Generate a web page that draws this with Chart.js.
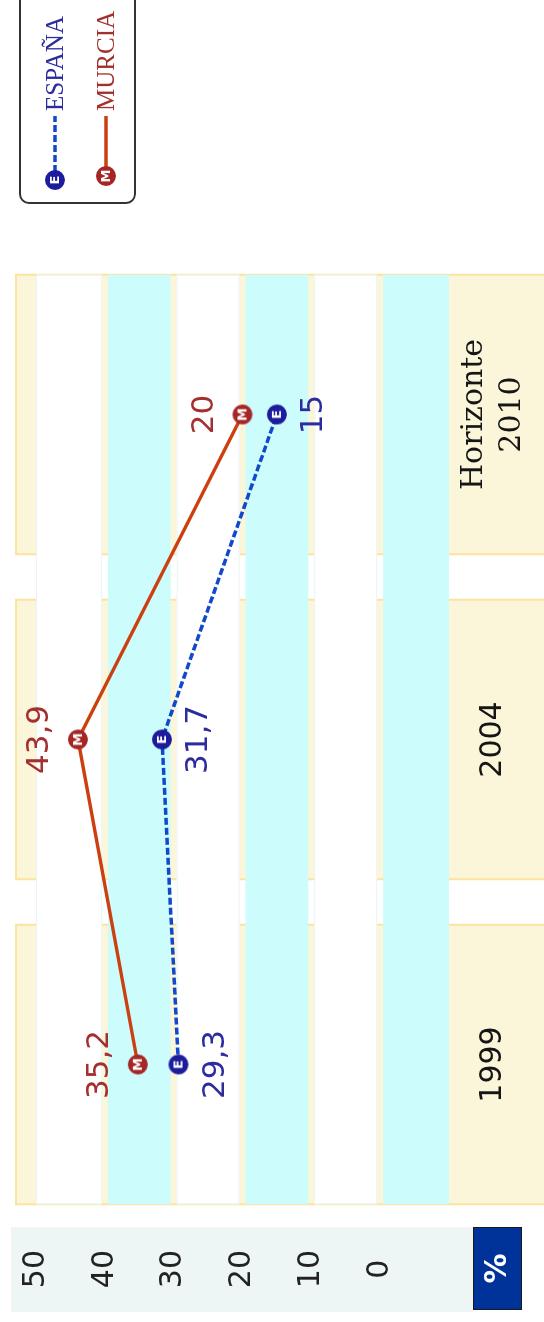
<!DOCTYPE html>
<html>
<head>
<meta charset="utf-8">
<script src="https://cdn.jsdelivr.net/npm/chart.js@4/dist/chart.umd.min.js"></script>
<style>
  html, body { margin: 0; padding: 0; background: #fff; overflow: hidden; }
  /* el gráfico original está girado 90 grados a la izquierda */
  #giro { position: absolute; left: 0; top: 0; width: 1322px; height: 544px;
          transform-origin: 0 0; transform: translate(0, 1322px) rotate(-90deg); }
</style>
</head>
<body>
<div id="giro"><canvas id="grafico" width="1322" height="544"></canvas></div>
<script>
// Datos
var categorias = ["1999", "2004", ["Horizonte", "2010"]];
var serieEspana = [29.3, 31.7, 15];
var serieMurcia = [35.2, 43.9, 20];
var ticksY = [0, 10, 20, 30, 40, 50];

// Marcador redondo con la inicial de la serie
function crearMarcador(letra, color) {
    var c = document.createElement("canvas");
    c.width = 22;
    c.height = 22;
    var g = c.getContext("2d");
    g.beginPath();
    g.arc(11, 11, 10, 0, 2 * Math.PI);
    g.fillStyle = color;
    g.fill();
    g.fillStyle = "#ffffff";
    g.font = "bold 13px 'DejaVu Sans'";
    g.textAlign = "center";
    g.textBaseline = "middle";
    g.fillText(letra, 11, 11.5);
    return c;
}

var marcadorE = crearMarcador("E", "#1c1c9c");
var marcadorM = crearMarcador("M", "#a62626");

// Fondo: franja del eje, paneles amarillos y bandas
var fondo = {
    id: "fondo",
    beforeDraw: function(chart) {
        var ctx = chart.ctx;
        var a = chart.chartArea;
        var x = chart.scales.x;
        var y = chart.scales.y;
        ctx.save();

        // franja de los valores del eje Y
        ctx.fillStyle = "#edf6f4";
        ctx.fillRect(y.left, a.top - 25, y.width, a.bottom - a.top + 49);

        // cuadro del %
        ctx.fillStyle = "#003399";
        ctx.fillRect(y.left + 2, a.bottom + 24, y.width - 2, 49);
        ctx.strokeStyle = "#1a1a1a";
        ctx.lineWidth = 1;
        ctx.strokeRect(y.left + 2.5, a.bottom + 24.5, y.width - 3, 48);
        ctx.fillStyle = "#ffffff";
        ctx.font = "bold 30px 'DejaVu Sans'";
        ctx.textAlign = "center";
        ctx.textBaseline = "middle";
        ctx.fillText("%", y.left + 2 + (y.width - 2) / 2, a.bottom + 49);

        // paneles de cada categoría
        var paso = x.getPixelForValue(1) - x.getPixelForValue(0);
        var anchoPanel = paso * 0.86;
        for (var i = 0; i < categorias.length; i++) {
            var cx = x.getPixelForValue(i);
            ctx.fillStyle = "#fbf6da";
            ctx.fillRect(cx - anchoPanel / 2, a.top - 20, anchoPanel, chart.height);
            ctx.strokeStyle = "#fde3a0";
            ctx.lineWidth = 2;
            ctx.strokeRect(cx - anchoPanel / 2, a.top - 20, anchoPanel, chart.height + 10);
        }

        // bandas horizontales cada 10 unidades
        var izq = x.getPixelForValue(0) - anchoPanel / 2;
        var der = x.getPixelForValue(categorias.length - 1) + anchoPanel / 2;
        var n = 0;
        for (var u = y.max; u > y.min; u -= 10) {
            var arriba = y.getPixelForValue(u) + (u === y.max ? 0 : 3);
            var abajo = y.getPixelForValue(u - 10) - (u - 10 === y.min ? 0 : 3);
            ctx.fillStyle = n % 2 === 0 ? "#ffffff" : "#ccfcfc";
            ctx.fillRect(izq, arriba, der - izq, abajo - arriba);
            if (n % 2 === 0) {
                ctx.strokeStyle = "#e8f5f5";
                ctx.lineWidth = 1;
                ctx.strokeRect(izq + 0.5, arriba + 0.5, der - izq - 1, abajo - arriba - 1);
            }
            n++;
        }
        ctx.restore();
    }
};

// Valores junto a cada punto
var etiquetasValores = {
    id: "etiquetasValores",
    afterDatasetsDraw: function(chart) {
        var ctx = chart.ctx;
        chart.data.datasets.forEach(function(ds, i) {
            var meta = chart.getDatasetMeta(i);
            meta.data.forEach(function(pt, j) {
                ctx.save();
                ctx.font = "31px 'DejaVu Sans'";
                ctx.fillStyle = ds.colorEtiqueta;
                ctx.textAlign = "center";
                ctx.textBaseline = "middle";
                ctx.fillText(String(ds.data[j]).replace(".", ","), pt.x, pt.y + ds.desplEtiqueta);
                ctx.restore();
            });
        });
    }
};

// Leyenda con recuadro redondeado
var leyenda = {
    id: "leyenda",
    afterDraw: function(chart) {
        var ctx = chart.ctx;
        var a = chart.chartArea;
        var x0 = a.right + 49;
        var y0 = 20;
        ctx.save();
        ctx.beginPath();
        ctx.roundRect(x0, y0, 260, 115, 9);
        ctx.fillStyle = "#ffffff";
        ctx.fill();
        ctx.lineWidth = 2;
        ctx.strokeStyle = "#333333";
        ctx.stroke();
        chart.data.datasets.forEach(function(ds, i) {
            var yy = y0 + 35 + i * 51;
            var xm = x0 + 23 + i * 4;
            ctx.beginPath();
            ctx.setLineDash(ds.borderDash || []);
            ctx.moveTo(xm + 8, yy);
            ctx.lineTo(x0 + 87, yy);
            ctx.strokeStyle = ds.borderColor;
            ctx.lineWidth = 3.5;
            ctx.stroke();
            ctx.setLineDash([]);
            ctx.drawImage(ds.pointStyle, xm - 11, yy - 11);
            ctx.font = "25px 'Liberation Serif'";
            ctx.fillStyle = ds.colorEtiqueta;
            ctx.textAlign = "left";
            ctx.textBaseline = "middle";
            ctx.fillText(ds.label, x0 + 92, yy + 1);
        });
        ctx.restore();
    }
};

var ctx = document.getElementById("grafico").getContext("2d");
var grafico = new Chart(ctx, {
    type: "line",
    data: {
        labels: categorias,
        datasets: [{
            label: "ESPAÑA",
            data: serieEspana,
            borderColor: "#1148cc",
            borderWidth: 3.5,
            borderDash: [7, 3],
            pointStyle: marcadorE,
            pointRadius: 10,
            fill: false,
            colorEtiqueta: "#2c2c9e",
            desplEtiqueta: 37
        }, {
            label: "MURCIA",
            data: serieMurcia,
            borderColor: "#cc4010",
            borderWidth: 3.5,
            pointStyle: marcadorM,
            pointRadius: 10,
            fill: false,
            colorEtiqueta: "#a3302e",
            desplEtiqueta: -38
        }]
    },
    options: {
        responsive: false,
        animation: false,
        devicePixelRatio: 1,
        layout: { padding: { left: 10, right: 252, top: 36, bottom: 0 } },
        plugins: {
            legend: { display: false },
            tooltip: { enabled: false }
        },
        scales: {
            x: {
                offset: true,
                grid: { display: false },
                border: { display: false },
                ticks: {
                    color: "#151515",
                    padding: 17,
                    maxRotation: 0,
                    autoSkip: false,
                    crossAlign: "center",
                    font: function(c) {
                        return { family: c.index === 2 ? "DejaVu Serif" : "DejaVu Sans", size: 30, lineHeight: 1.27 };
                    }
                },
                afterFit: function(s) { s.height = 95; }
            },
            y: {
                min: -10,
                max: 50,
                grid: { display: false, drawTicks: false },
                border: { display: false },
                afterBuildTicks: function(s) {
                    s.ticks = ticksY.map(function(v) { return { value: v }; });
                },
                ticks: {
                    color: "#222222",
                    padding: 23,
                    crossAlign: "center",
                    font: { family: "DejaVu Sans", size: 30 }
                },
                afterFit: function(s) {
                    s.width = 85;
                    s.paddingTop = 0;
                    s.paddingBottom = 0;
                }
            }
        }
    },
    plugins: [fondo, etiquetasValores, leyenda]
});
</script>
</body>
</html>
